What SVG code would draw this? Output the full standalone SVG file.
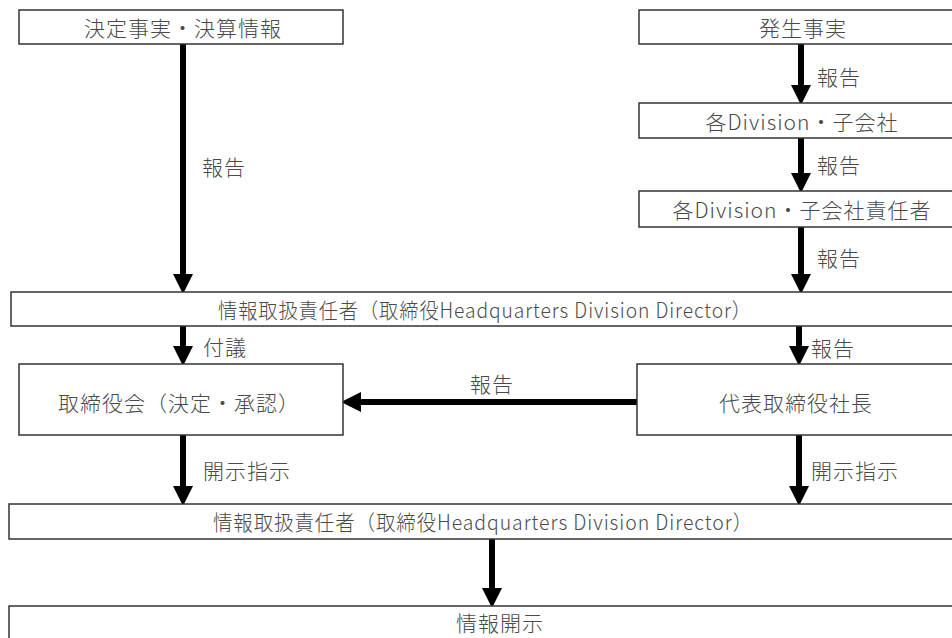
<svg xmlns="http://www.w3.org/2000/svg" width="952" height="638" viewBox="0 0 952 638">
<defs>
<style>
.box{fill:#fff;stroke:#333;stroke-width:1.5}
.t{font-family:"Noto Sans CJK JP","Noto Sans",sans-serif;font-size:21px;letter-spacing:1px;font-weight:300;fill:#4a4a4a;text-anchor:middle;dominant-baseline:central}
.l{font-family:"Noto Sans CJK JP","Noto Sans",sans-serif;font-size:21px;letter-spacing:1px;font-weight:300;fill:#4a4a4a;dominant-baseline:central}
.c{stroke:#000;stroke-width:6;fill:none;marker-end:url(#ah)}
</style>
<marker id="ah" markerUnits="userSpaceOnUse" markerWidth="20" markerHeight="20" viewBox="0 0 18 18" refX="0" refY="9" orient="auto">
<path d="M0,0 L18,9 L0,18 z" fill="#000"/>
</marker>
</defs>
<rect width="952" height="638" fill="#fff"/>
<g id="connectors">
<line class="c" x1="183" y1="44" x2="183" y2="274"/>
<line class="c" x1="801" y1="44" x2="801" y2="85"/>
<line class="c" x1="801" y1="138" x2="801" y2="173"/>
<line class="c" x1="801" y1="227" x2="801" y2="274"/>
<line class="c" x1="183" y1="326" x2="183" y2="346"/>
<line class="c" x1="799" y1="326" x2="799" y2="346"/>
<line class="c" x1="637" y1="402" x2="361" y2="402"/>
<line class="c" x1="183" y1="435" x2="183" y2="486"/>
<line class="c" x1="799" y1="435" x2="799" y2="486"/>
<line class="c" x1="492" y1="539" x2="492" y2="588"/>
<text class="l" x="202" y="166">報告</text>
<text class="l" x="817" y="76">報告</text>
<text class="l" x="817" y="164">報告</text>
<text class="l" x="817" y="257">報告</text>
<text class="l" x="203" y="346">付議</text>
<text class="l" x="811" y="347">報告</text>
<text class="l" x="470" y="383">報告</text>
<text class="l" x="203" y="470">開示指示</text>
<text class="l" x="811" y="470">開示指示</text>
</g>
<g id="n1"><rect class="box" x="19" y="10" width="324" height="34"/><text class="t" x="183" y="27">決定事実・決算情報</text></g>
<g id="n2"><rect class="box" x="639" y="10" width="330" height="34"/><text class="t" x="803" y="27">発生事実</text></g>
<g id="n3"><rect class="box" x="639" y="103" width="330" height="35"/><text class="t" x="802" y="121">各Division・子会社</text></g>
<g id="n4"><rect class="box" x="639" y="191" width="330" height="36"/><text class="t" x="802" y="209">各Division・子会社責任者</text></g>
<g id="n5"><rect class="box" x="11" y="292" width="960" height="34"/><text class="t" x="485" y="309" textLength="534" lengthAdjust="spacingAndGlyphs">情報取扱責任者（取締役Headquarters Division Director）</text></g>
<g id="n6"><rect class="box" x="19" y="364" width="324" height="71"/><text class="t" x="179" y="402">取締役会（決定・承認）</text></g>
<g id="n7"><rect class="box" x="637" y="364" width="330" height="71"/><text class="t" x="796" y="402">代表取締役社長</text></g>
<g id="n8"><rect class="box" x="9" y="504" width="960" height="35"/><text class="t" x="483" y="521" textLength="540" lengthAdjust="spacingAndGlyphs">情報取扱責任者（取締役Headquarters Division Director）</text></g>
<g id="n9"><rect class="box" x="9" y="606" width="960" height="60"/><text class="t" x="500" y="622">情報開示</text></g>
</svg>
